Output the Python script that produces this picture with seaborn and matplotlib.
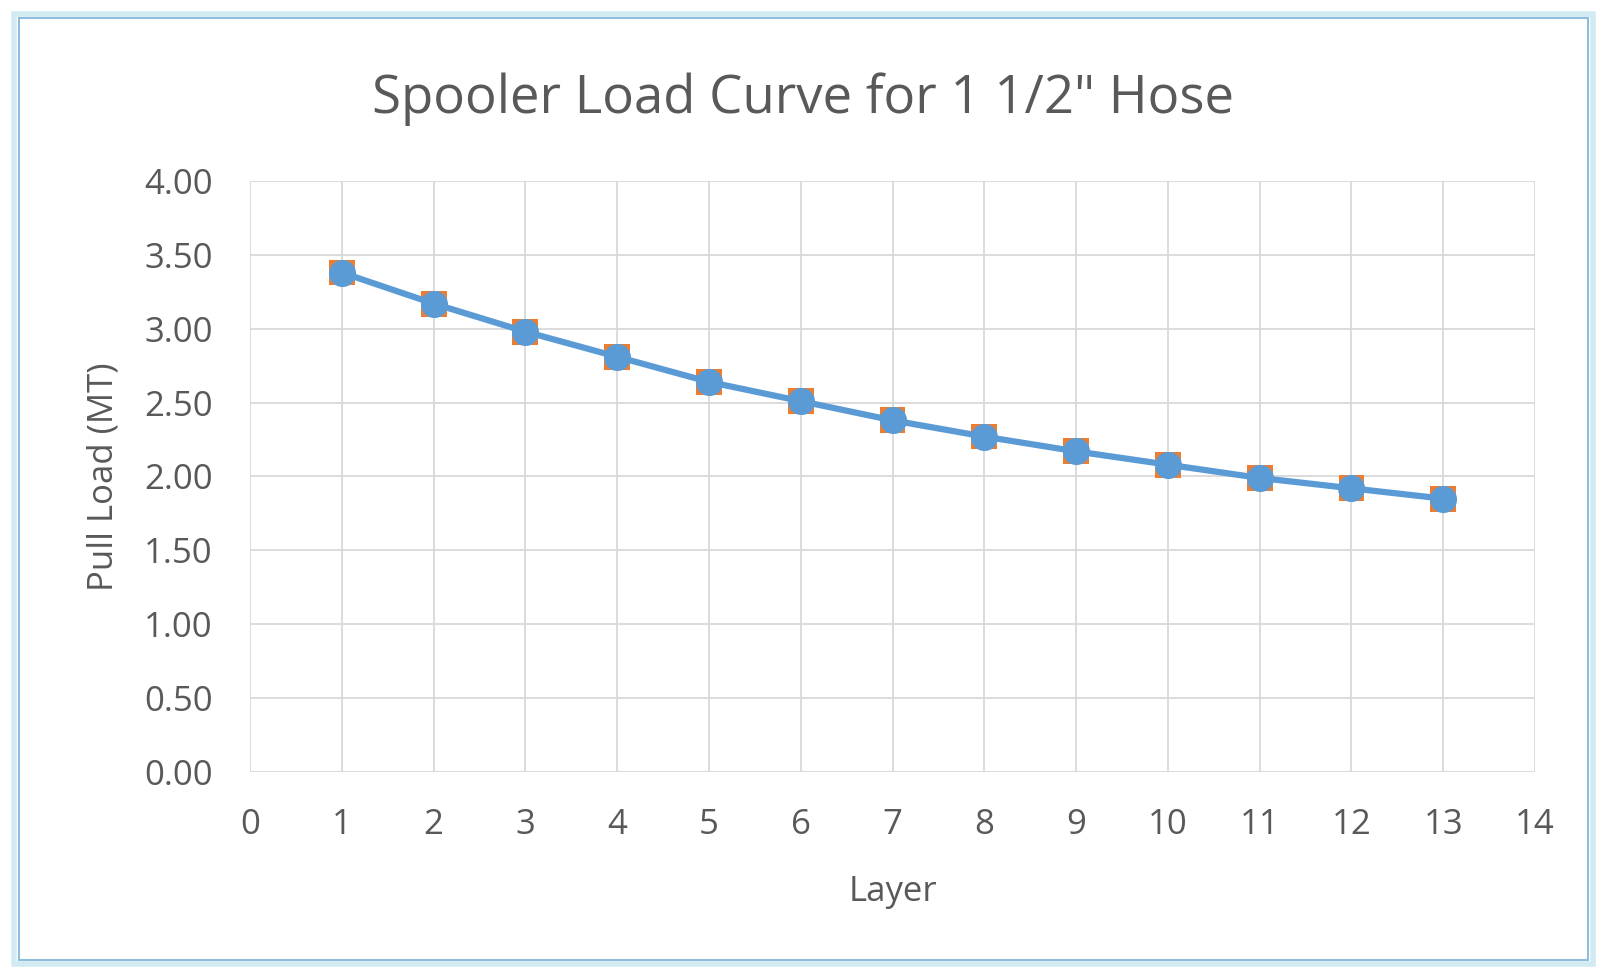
import matplotlib
matplotlib.use("Agg")
import matplotlib.pyplot as plt
import seaborn as sns
import pandas as pd
from matplotlib.patches import Rectangle

layers = [1, 2, 3, 4, 5, 6, 7, 8, 9, 10, 11, 12, 13]
pull_load = [3.38, 3.17, 2.98, 2.81, 2.64, 2.51, 2.38, 2.27, 2.17, 2.08, 1.99, 1.92, 1.85]
x_ticks = list(range(0, 15))
y_ticks = [0.0, 0.5, 1.0, 1.5, 2.0, 2.5, 3.0, 3.5, 4.0]
title = 'Spooler Load Curve for 1 1/2" Hose'

df = pd.DataFrame({"Layer": layers, "Load": pull_load})

sns.set_theme(style="white")
plt.rcParams['font.family'] = ['Open Sans', 'DejaVu Sans']
text_col = "#595959"

fig = plt.figure(figsize=(16.07, 9.75), dpi=100)
ax = fig.add_axes([0.1556, 0.2082, 0.7996, 0.6062])

# orange square series underneath
sns.scatterplot(data=df, x="Layer", y="Load", ax=ax, marker="s", s=345,
                color="#ed7d31", edgecolor="none", zorder=3, legend=False)
# blue line with circle markers
sns.lineplot(data=df, x="Layer", y="Load", ax=ax, color="#5b9bd5", linewidth=4.5,
             marker="o", markersize=19.5, markeredgewidth=0, zorder=4)

ax.set_xlim(0, 14)
ax.set_ylim(0, 4)
ax.set_xticks(x_ticks)
ax.set_yticks(y_ticks)
ax.set_yticklabels([f"{v:.2f}" for v in y_ticks])
ax.grid(True, color="#d9d9d9", linewidth=1.3)
ax.set_axisbelow(True)
for s in ax.spines.values():
    s.set_visible(False)
ax.tick_params(axis="both", length=0, labelsize=25, labelcolor=text_col)
ax.tick_params(axis="y", pad=27)
ax.tick_params(axis="x", pad=26)
ax.set_xlabel("Layer", fontsize=25, color=text_col, labelpad=24)
ax.set_ylabel("Pull Load (MT)", fontsize=25, color=text_col, labelpad=17)
fig.text(0.5, 0.898, title, ha="center", va="center", fontsize=38, color=text_col)

# frame
fig.patches.append(Rectangle((0.009, 0.011), 0.982, 0.975, transform=fig.transFigure,
                             fill=False, edgecolor="#d2ebf3", linewidth=4))
fig.patches.append(Rectangle((0.012, 0.015), 0.976, 0.967, transform=fig.transFigure,
                             fill=False, edgecolor="#8fbde0", linewidth=1.5))

fig.savefig("out.png", dpi=100, facecolor="white")
